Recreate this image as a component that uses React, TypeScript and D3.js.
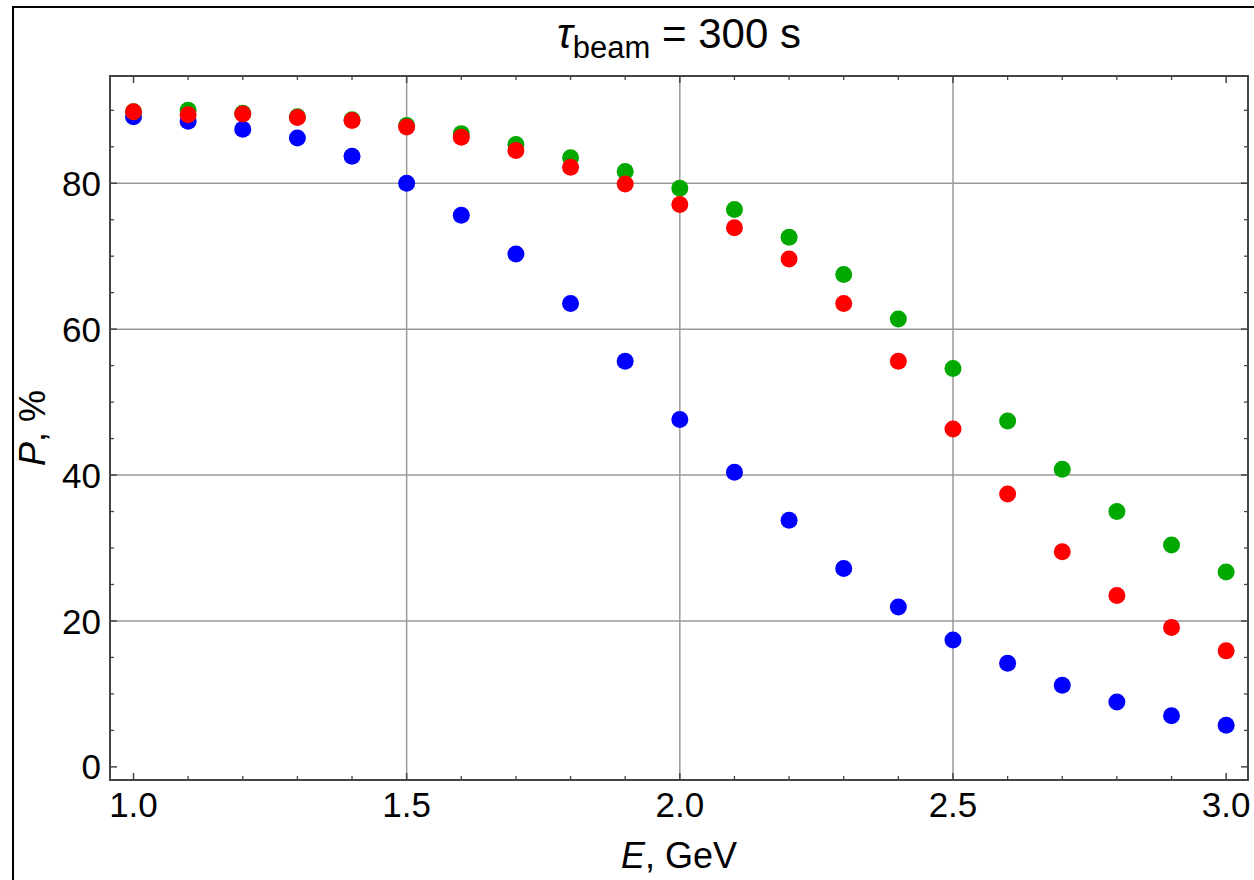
import React from "react";
import * as d3 from "d3";

const energies = [1.0, 1.1, 1.2, 1.3, 1.4, 1.5, 1.6, 1.7, 1.8, 1.9, 2.0, 2.1, 2.2, 2.3, 2.4, 2.5, 2.6, 2.7, 2.8, 2.9, 3.0];
const bluePol = [89.1, 88.5, 87.4, 86.2, 83.7, 80.0, 75.6, 70.3, 63.5, 55.6, 47.6, 40.4, 33.8, 27.2, 21.9, 17.4, 14.2, 11.2, 8.9, 7.0, 5.7];
const greenPol = [89.8, 90.0, 89.6, 89.1, 88.7, 87.9, 86.8, 85.3, 83.5, 81.6, 79.3, 76.4, 72.6, 67.5, 61.4, 54.6, 47.4, 40.8, 35.0, 30.4, 26.7];
const redPol = [89.8, 89.4, 89.5, 89.0, 88.6, 87.7, 86.3, 84.5, 82.2, 79.9, 77.1, 73.9, 69.6, 63.5, 55.6, 46.3, 37.4, 29.5, 23.5, 19.1, 15.9];

const xMajorTicks = [1.0, 1.5, 2.0, 2.5, 3.0];
const xTickLabels = ["1.0", "1.5", "2.0", "2.5", "3.0"];
const xGrid = [1.5, 2.0, 2.5];
const yMajorTicks = [0, 20, 40, 60, 80];
const yTickLabels = ["0", "20", "40", "60", "80"];
const yGrid = [20, 40, 60, 80];

const series = [
  { name: "blue", values: bluePol, color: "#0000ff" },
  { name: "green", values: greenPol, color: "#00a800" },
  { name: "red", values: redPol, color: "#ff0000" },
];

export default function App() {
  const W = 1254, H = 880;
  const left = 110, right = 1248, top = 76, bottom = 780;
  const x = d3.scaleLinear().domain([0.957, 3.04]).range([left, right]);
  const y = d3.scaleLinear().domain([-1.8, 94.7]).range([bottom, top]);

  const xMinor = d3.range(10, 31).map((v) => v / 10).filter((v) => !xMajorTicks.some((m) => Math.abs(m - v) < 1e-6));
  const yMinor = d3.range(0, 95, 5).filter((v) => !yMajorTicks.includes(v));

  const font = "'Liberation Sans', Arial, sans-serif";
  const frameColor = "#444";
  const gridColor = "#9a9a9a";

  return (
    <svg width={W} height={H} style={{ position: "absolute", left: 0, top: 0, background: "#fff" }} fontFamily={font}>
      <rect x={0} y={0} width={W} height={H} fill="#fff" />
      {/* outer border */}
      <rect x={13} y={7} width={W + 20} height={H + 20} fill="none" stroke="#000" strokeWidth={2} />

      {/* grid */}
      {xGrid.map((v) => (
        <line key={"gx" + v} x1={x(v)} x2={x(v)} y1={top} y2={bottom} stroke={gridColor} strokeWidth={1.5} />
      ))}
      {yGrid.map((v) => (
        <line key={"gy" + v} x1={left} x2={right} y1={y(v)} y2={y(v)} stroke={gridColor} strokeWidth={1.5} />
      ))}

      {/* ticks */}
      {xMajorTicks.map((v) => (
        <g key={"xt" + v}>
          <line x1={x(v)} x2={x(v)} y1={bottom} y2={bottom - 7} stroke={frameColor} strokeWidth={1.5} />
          <line x1={x(v)} x2={x(v)} y1={top} y2={top + 7} stroke={frameColor} strokeWidth={1.5} />
        </g>
      ))}
      {xMinor.map((v) => (
        <g key={"xm" + v}>
          <line x1={x(v)} x2={x(v)} y1={bottom} y2={bottom - 4} stroke={frameColor} strokeWidth={1.3} />
          <line x1={x(v)} x2={x(v)} y1={top} y2={top + 4} stroke={frameColor} strokeWidth={1.3} />
        </g>
      ))}
      {yMajorTicks.map((v) => (
        <g key={"yt" + v}>
          <line x1={left} x2={left + 7} y1={y(v)} y2={y(v)} stroke={frameColor} strokeWidth={1.5} />
          <line x1={right} x2={right - 7} y1={y(v)} y2={y(v)} stroke={frameColor} strokeWidth={1.5} />
        </g>
      ))}
      {yMinor.map((v) => (
        <g key={"ym" + v}>
          <line x1={left} x2={left + 4} y1={y(v)} y2={y(v)} stroke={frameColor} strokeWidth={1.3} />
          <line x1={right} x2={right - 4} y1={y(v)} y2={y(v)} stroke={frameColor} strokeWidth={1.3} />
        </g>
      ))}

      {/* points */}
      {series.map((s) => (
        <g key={s.name}>
          {s.values.map((v, i) => (
            <circle key={i} cx={x(energies[i])} cy={y(v)} r={8.5} fill={s.color} />
          ))}
        </g>
      ))}

      {/* frame */}
      <rect x={left} y={top} width={right - left} height={bottom - top} fill="none" stroke={frameColor} strokeWidth={2} />

      {/* tick labels */}
      {xMajorTicks.map((v, i) => (
        <text key={"xl" + v} x={x(v)} y={817} textAnchor="middle" fontSize={35} fill="#000">
          {xTickLabels[i]}
        </text>
      ))}
      {yMajorTicks.map((v, i) => (
        <text key={"yl" + v} x={101} y={y(v)} dy="0.36em" textAnchor="end" fontSize={35} fill="#000">
          {yTickLabels[i]}
        </text>
      ))}

      {/* axis labels */}
      <text x={(left + right) / 2} y={868} textAnchor="middle" fontSize={36} fill="#000">
        <tspan fontStyle="italic">E</tspan>
        <tspan>, GeV</tspan>
      </text>
      <text transform={`translate(45, ${(top + bottom) / 2}) rotate(-90)`} textAnchor="middle" fontSize={36} fill="#000">
        <tspan fontStyle="italic">P</tspan>
        <tspan>, %</tspan>
      </text>

      {/* title */}
      <text x={(left + right) / 2} y={48} textAnchor="middle" fontSize={42} fill="#000">
        <tspan fontStyle="italic">τ</tspan>
        <tspan fontSize={31} dy={10}>beam</tspan>
        <tspan dy={-10}> = 300 s</tspan>
      </text>
    </svg>
  );
}
